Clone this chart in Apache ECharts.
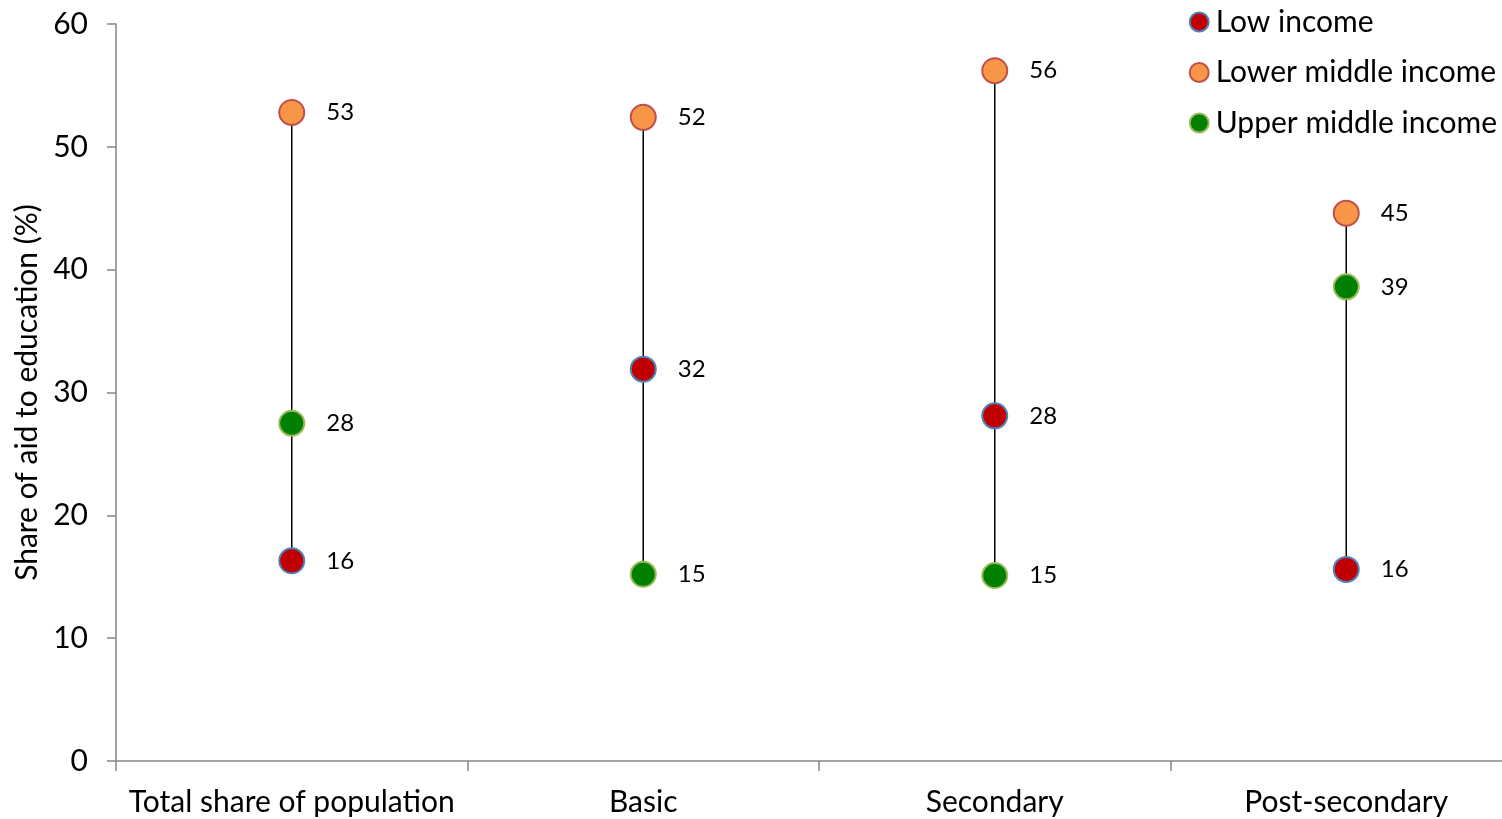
<!DOCTYPE html>
<html>
<head>
<meta charset="utf-8">
<script src="https://cdn.jsdelivr.net/npm/echarts@6/dist/echarts.min.js"></script>
<style>
  html, body { margin: 0; padding: 0; background: #fff; overflow: hidden; }
  #chart { width: 1502px; height: 819px; }
</style>
</head>
<body>
<div id="chart"></div>
<script>
// Categories and values (share of aid to education, %)
const categories = ['Total share of population', 'Basic', 'Secondary', 'Post-secondary'];
const lowIncome = [16.3, 31.9, 28.1, 15.6];
const lowerMiddleIncome = [52.8, 52.4, 56.2, 44.6];
const upperMiddleIncome = [27.5, 15.2, 15.1, 38.6];
const yTicks = { min: 0, max: 60, interval: 10 };

const FONT = 'Lato, "Open Sans", sans-serif';

// Range per category: from the smallest to the largest value
const ranges = categories.map((c, i) => {
  const v = [lowIncome[i], lowerMiddleIncome[i], upperMiddleIncome[i]];
  return [i, Math.min(...v), Math.max(...v)];
});

const labelCfg = {
  show: true,
  position: 'right',
  distance: 21,
  fontSize: 24,
  fontFamily: FONT,
  color: '#000',
  padding: [4, 0, 0, 0],
  formatter: p => Math.round(p.value)
};

function dotSeries(name, data, fill, border) {
  return {
    name: name,
    type: 'scatter',
    data: data,
    symbol: 'circle',
    symbolSize: 25,
    z: 3,
    itemStyle: { color: fill, borderColor: border, borderWidth: 2, opacity: 1 },
    label: labelCfg,
    emphasis: { disabled: true }
  };
}

const chart = echarts.init(document.getElementById('chart'));
chart.setOption({
  animation: false,
  backgroundColor: '#fff',
  // plot area runs past the right edge of the canvas
  grid: { left: 116, top: 24, height: 737, width: 1406, outerBoundsMode: 'none', containLabel: false },
  legend: {
    orient: 'vertical',
    right: 0,
    top: 2,
    itemGap: 20.5,
    itemWidth: 19,
    itemHeight: 19,
    icon: 'circle',
    textStyle: { fontSize: 30, fontFamily: FONT, color: '#000', padding: [0, 0, 0, 2] },
    data: ['Low income', 'Lower middle income', 'Upper middle income']
  },
  xAxis: {
    type: 'category',
    data: categories,
    boundaryGap: true,
    axisLine: { lineStyle: { color: '#868686', width: 1.5 } },
    axisTick: { show: true, length: 10, alignWithLabel: false, lineStyle: { color: '#868686', width: 1.5 } },
    axisLabel: { fontSize: 30, fontFamily: FONT, color: '#000', margin: 26, interval: 0 },
    splitLine: { show: false }
  },
  yAxis: {
    type: 'value',
    min: yTicks.min,
    max: yTicks.max,
    interval: yTicks.interval,
    name: 'Share of aid to education (%)',
    nameLocation: 'middle',
    nameGap: 72,
    nameTextStyle: { fontSize: 30, fontFamily: FONT, color: '#000' },
    axisLine: { show: true, lineStyle: { color: '#868686', width: 1.5 } },
    axisTick: { show: true, length: 9, lineStyle: { color: '#868686', width: 1.5 } },
    axisLabel: { fontSize: 30, fontFamily: FONT, color: '#000', margin: 28 },
    splitLine: { show: false }
  },
  series: [
    {
      type: 'custom',
      z: 1,
      silent: true,
      data: ranges,
      renderItem: function (params, api) {
        const p1 = api.coord([api.value(0), api.value(1)]);
        const p2 = api.coord([api.value(0), api.value(2)]);
        return {
          type: 'line',
          shape: { x1: p1[0], y1: p1[1], x2: p2[0], y2: p2[1] },
          style: { stroke: '#000', lineWidth: 1.5 }
        };
      }
    },
    dotSeries('Low income', lowIncome, '#C00000', '#4F81BD'),
    dotSeries('Lower middle income', lowerMiddleIncome, '#F79646', '#C0504D'),
    dotSeries('Upper middle income', upperMiddleIncome, '#008000', '#9BBB59')
  ]
});
</script>
</body>
</html>
